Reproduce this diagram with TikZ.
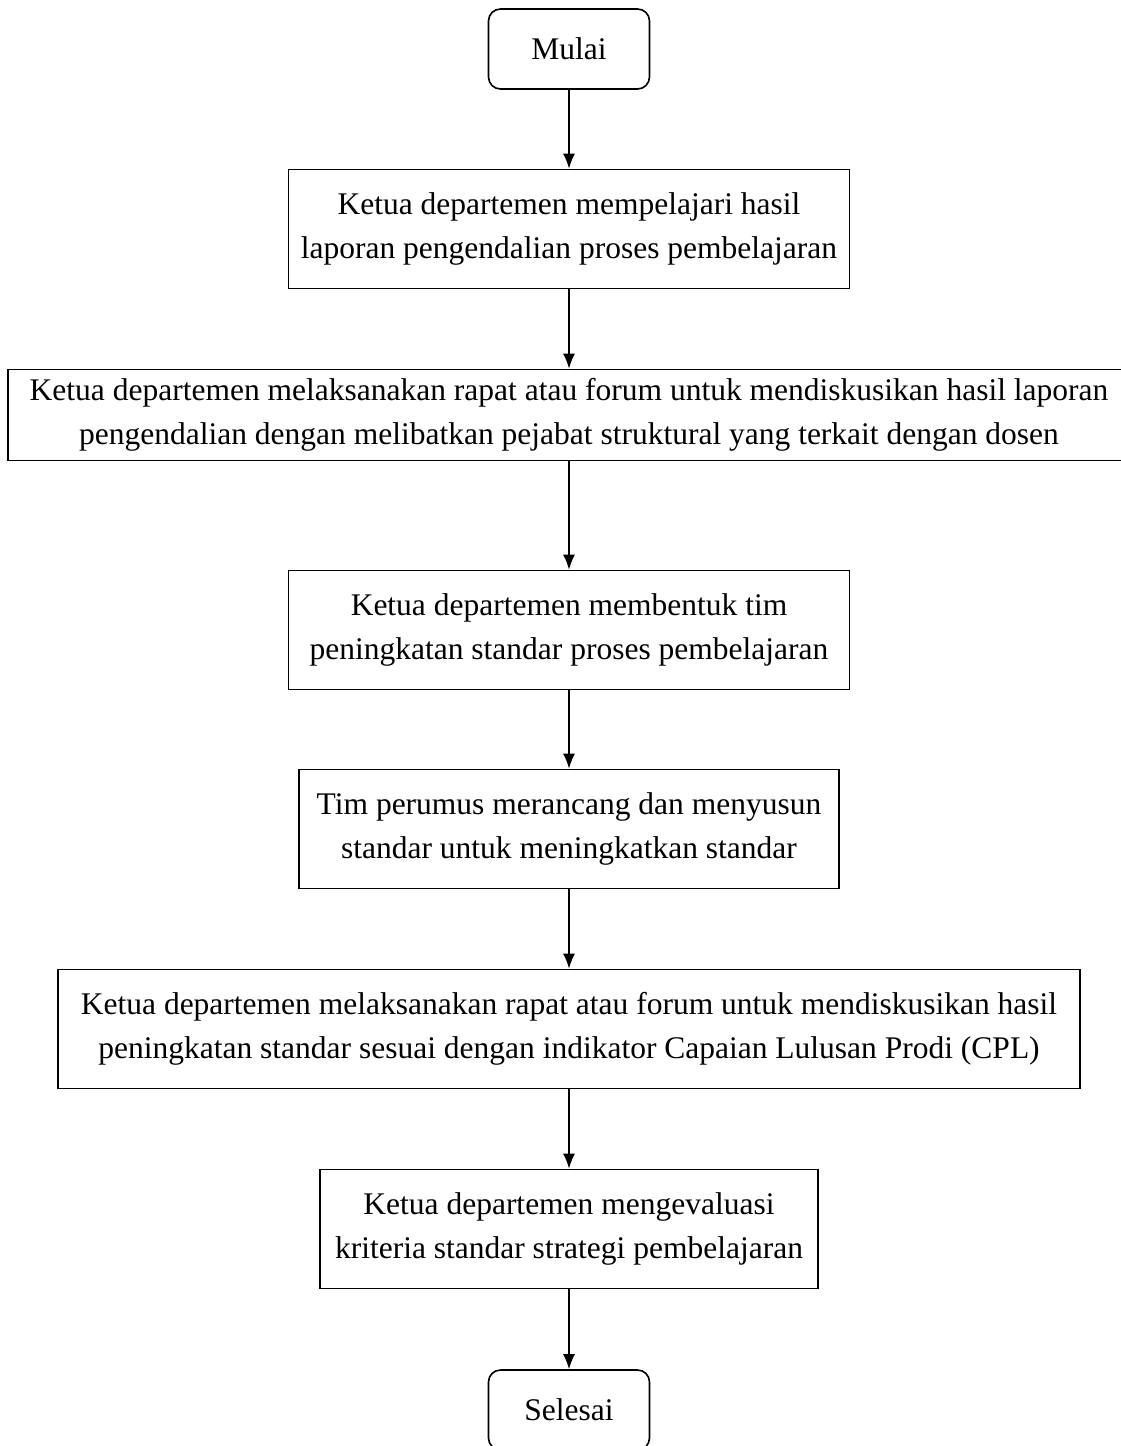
\documentclass[tikz,border=0pt]{standalone}
\usepackage{fontspec}
\setmainfont{Liberation Serif}
\usetikzlibrary{arrows.meta}
\begin{document}
\begin{tikzpicture}[
  x=1pt, y=-1pt,
  line width=1.6pt,
  every node/.style={font=\fontsize{31.5}{44}\selectfont, align=center, inner sep=0pt},
  terminal/.style={draw, rounded corners=12pt, minimum width=161pt, minimum height=80pt},
  stepbox/.style={draw, minimum height=#1},
  stepbox/.default=119pt,
  flow/.style={draw, -{Latex[length=15pt,width=12pt]}}
]
\useasboundingbox (0,0) rectangle (1121,1446);
\node[terminal] (mulai) at (569,49) {Mulai};
\node[stepbox, minimum width=561pt] (pelajari) at (569,229)
  {Ketua departemen mempelajari hasil\\laporan pengendalian proses pembelajaran};
\node[stepbox=91pt, minimum width=1122pt] (rapat) at (569,415)
  {Ketua departemen melaksanakan rapat atau forum untuk mendiskusikan hasil laporan\\pengendalian dengan melibatkan pejabat struktural yang terkait dengan dosen};
\node[stepbox, minimum width=561pt] (tim) at (569,630)
  {Ketua departemen membentuk tim\\peningkatan standar proses pembelajaran};
\node[stepbox, minimum width=540pt] (rumus) at (569,829)
  {Tim perumus merancang dan menyusun\\standar untuk meningkatkan standar};
\node[stepbox, minimum width=1022pt] (cpl) at (569,1029)
  {Ketua departemen melaksanakan rapat atau forum untuk mendiskusikan hasil\\peningkatan standar sesuai dengan indikator Capaian Lulusan Prodi (CPL)};
\node[stepbox, minimum width=498pt] (evaluasi) at (569,1229)
  {Ketua departemen mengevaluasi\\kriteria standar strategi pembelajaran};
\node[terminal] (selesai) at (569,1410) {Selesai};
% alur
\draw[flow] (mulai) -- (pelajari);
\draw[flow] (pelajari) -- (rapat);
\draw[flow] (rapat) -- (tim);
\draw[flow] (tim) -- (rumus);
\draw[flow] (rumus) -- (cpl);
\draw[flow] (cpl) -- (evaluasi);
\draw[flow] (evaluasi) -- (selesai);
\end{tikzpicture}
\end{document}
